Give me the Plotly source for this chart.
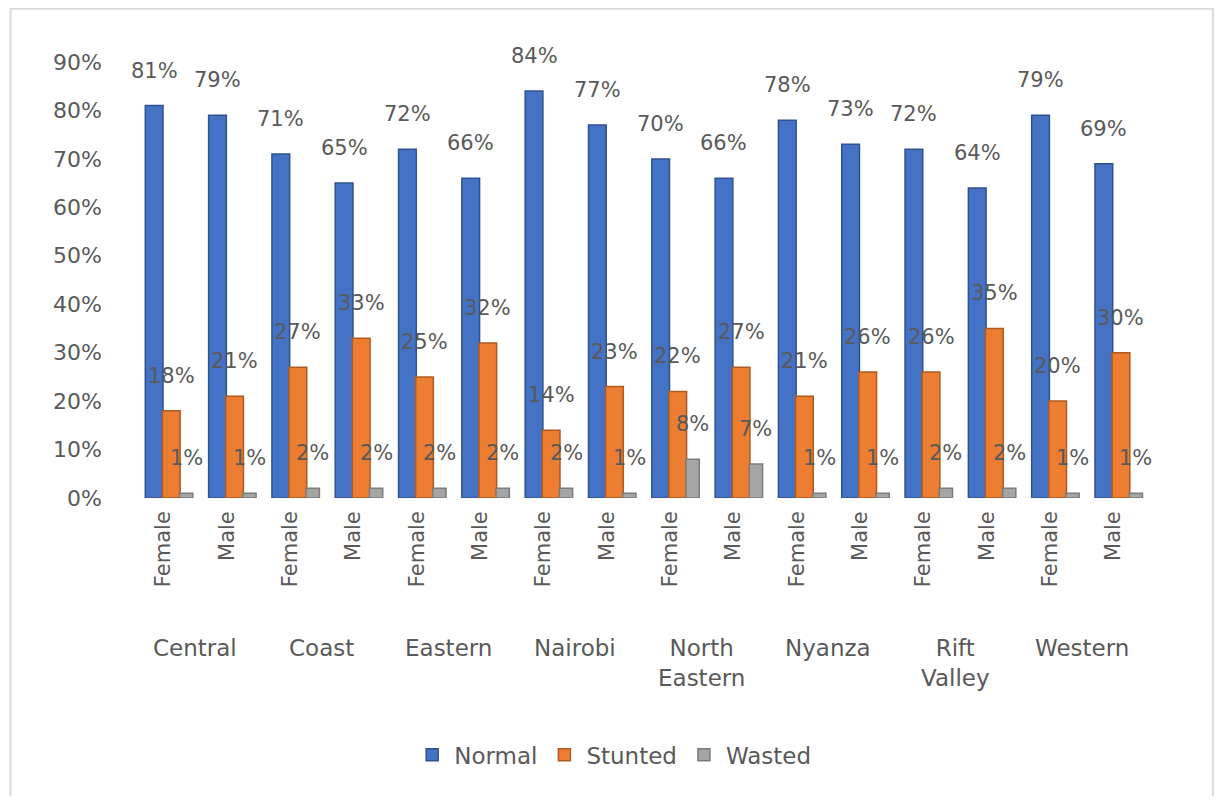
import plotly.graph_objects as go

regions = ["Central", "Coast", "Eastern", "Nairobi", "North<br>Eastern", "Nyanza", "Rift<br>Valley", "Western"]
sexes = ["Female", "Male"]
normal = [81, 79, 71, 65, 72, 66, 84, 77, 70, 66, 78, 73, 72, 64, 79, 69]
stunted = [18, 21, 27, 33, 25, 32, 14, 23, 22, 27, 21, 26, 26, 35, 20, 30]
wasted = [1, 1, 2, 2, 2, 2, 2, 1, 8, 7, 1, 1, 2, 2, 1, 1]
y_ticks = [0, 10, 20, 30, 40, 50, 60, 70, 80, 90]

x_labels = [s for _ in regions for s in sexes]
xpos = list(range(len(x_labels)))

# name, values, fill, edge, offset, width
series = [
    ("Normal", normal, "#4472C4", "#2F528F", -0.29, 0.28),
    ("Stunted", stunted, "#ED7D31", "#AE5A21", -0.02, 0.28),
    ("Wasted", wasted, "#A5A5A5", "#7B7B7B", 0.25, 0.21),
]

FONT = "DejaVu Sans"
TXT = "#595959"

fig = go.Figure()
annotations = []
for name, vals, col, edge, off, wid in series:
    fig.add_trace(go.Bar(
        x=xpos, y=[v / 100 for v in vals], name=name,
        offset=off, width=wid,
        marker=dict(color=col, line=dict(color=edge, width=1.5)),
        cliponaxis=False,
    ))
    for xi, v in zip(xpos, vals):
        annotations.append(dict(
            x=xi + off + wid / 2, xref="x", y=v / 100, yref="y",
            text=f"{v}%", showarrow=False, xanchor="center", yanchor="middle",
            yshift=35, font=dict(family=FONT, size=21, color=TXT),
        ))

for k, r in enumerate(regions):
    annotations.append(dict(
        x=2 * k + 0.5, xref="x", y=-0.31, yref="paper",
        text=r, showarrow=False, xanchor="center", yanchor="top",
        font=dict(family=FONT, size=23, color=TXT), align="center",
    ))

fig.update_layout(
    width=1206, height=788,
    margin=dict(l=124, r=69, t=54, b=298),
    paper_bgcolor="white", plot_bgcolor="white",
    barmode="overlay",
    showlegend=True,
    legend=dict(orientation="h", x=0.475, xanchor="center", y=-0.589, yanchor="middle",
                font=dict(family=FONT, size=23, color=TXT), itemwidth=34),
    xaxis=dict(tickmode="array", tickvals=xpos, ticktext=x_labels, tickangle=-90,
               tickfont=dict(family=FONT, size=21, color=TXT), showgrid=False,
               showline=False, zeroline=False, range=[-0.5, 15.5],
               ticklabelstandoff=8),
    yaxis=dict(range=[0, 0.9], tickvals=[t / 100 for t in y_ticks],
               ticktext=[f"{t}%" for t in y_ticks],
               tickfont=dict(family=FONT, size=22, color=TXT), showgrid=False,
               zeroline=False, showline=False, ticklabelstandoff=29),
    annotations=annotations,
    shapes=[dict(type="path", xref="paper", yref="paper",
                 path="M -0.1199,-0.711 L -0.1199,1.1222 L 1.067,1.1222 L 1.067,-0.711",
                 line=dict(color="#D9D9D9", width=2))],
)

fig.write_html("out.html")
